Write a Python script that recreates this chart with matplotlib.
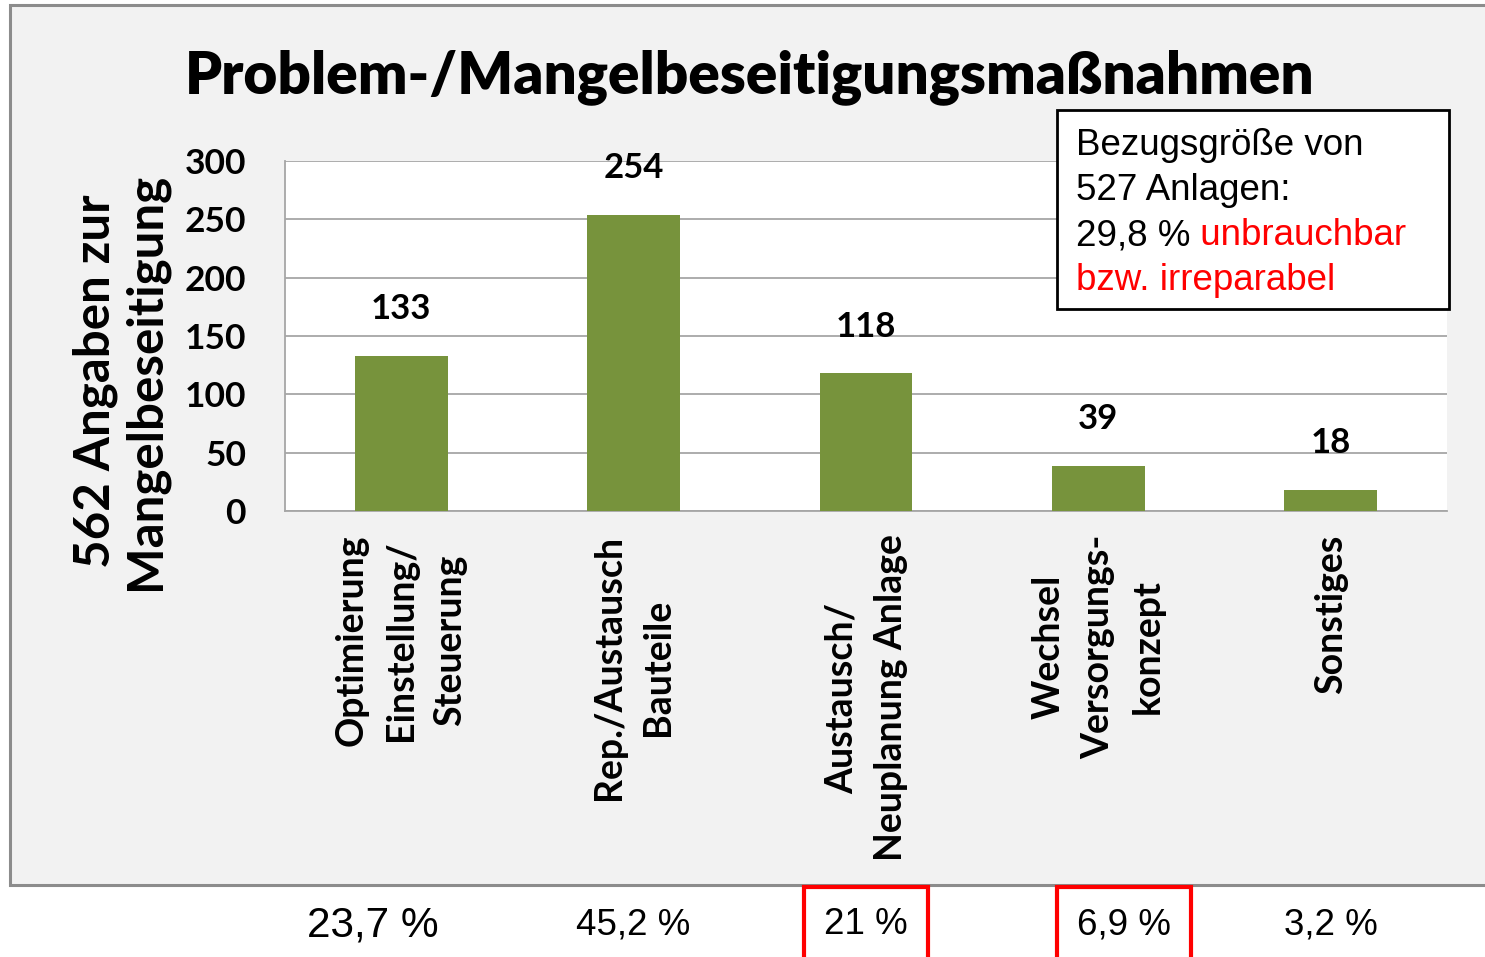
import matplotlib
matplotlib.use("Agg")
import matplotlib.pyplot as plt
from matplotlib.patches import Rectangle
from matplotlib.text import Annotation
from matplotlib.transforms import blended_transform_factory

# data
categories = [
    "Optimierung\nEinstellung/\nSteuerung",
    "Rep./Austausch\nBauteile",
    "Austausch/\nNeuplanung Anlage",
    "Wechsel\nVersorgungs-\nkonzept",
    "Sonstiges",
]
counts = [133, 254, 118, 39, 18]
shares = ["23,7 %", "45,2 %", "21 %", "6,9 %", "3,2 %"]
highlighted = [False, False, True, True, False]
yticks = [0, 50, 100, 150, 200, 250, 300]

BAR = "#77933c"
GRID = "#a6a6a6"
PANEL = "#f2f2f2"
BOLD_FONT = "Lato"
PLAIN_FONT = "Liberation Sans"

W, H = 1485, 957
fig = plt.figure(figsize=(W / 100, H / 100), dpi=100, facecolor="white")

# grey chart panel
panel = Rectangle((10 / W, 72 / H), 1.0, (957 - 72 - 5) / H, transform=fig.transFigure,
                  facecolor=PANEL, edgecolor="#8c8c8c", lw=2.2, zorder=-10)
fig.patches.append(panel)

ax = fig.add_axes([285 / W, (H - 511) / H, (1447 - 285) / W, 350 / H])
ax.set_facecolor("white")
x = list(range(len(categories)))
bars = ax.bar(x, counts, width=0.4, color=BAR, zorder=3)
ax.bar_label(bars, padding=22, fontsize=25, fontweight="bold", family=BOLD_FONT)

ax.set_xlim(-0.5, len(categories) - 0.5)
ax.set_ylim(0, 300)
ax.set_yticks(yticks)
ax.set_yticklabels([str(v) for v in yticks], fontsize=25.5, fontweight="bold", family=BOLD_FONT)
ax.set_xticks(x)
ax.set_xticklabels(categories, rotation=90, fontsize=27, fontweight="bold", family=BOLD_FONT,
                   linespacing=1.55)
for lbl in ax.get_xticklabels():
    lbl.set_multialignment("center")
ax.tick_params(axis="both", length=0)
ax.tick_params(axis="y", pad=28)
ax.tick_params(axis="x", pad=17)
ax.grid(axis="y", color=GRID, lw=1.3, zorder=0)
for s in ["top", "right"]:
    ax.spines[s].set_visible(False)
for s in ["left", "bottom"]:
    ax.spines[s].set_color(GRID)
    ax.spines[s].set_linewidth(1.3)

fig.text(750 / W, (H - 77) / H, "Problem-/Mangelbeseitigungsmaßnahmen", ha="center", va="center",
         fontsize=42, fontweight="heavy", family=BOLD_FONT)
fig.text(120 / W, (H - 381) / H, "562 Angaben zur\nMangelbeseitigung", rotation=90,
         ha="center", va="center", multialignment="center", fontsize=35.5,
         fontweight="bold", family=BOLD_FONT, linespacing=1.12)

# note box
box = Rectangle((1057 / W, (H - 309) / H), (1449 - 1057) / W, 199 / H, transform=fig.transFigure,
                facecolor="white", edgecolor="black", lw=2, zorder=5)
fig.patches.append(box)
tx = 1076 / W
base = 155
step = 45
note_size = 26.5
fig.text(tx, (H - base) / H, "Bezugsgröße von", fontsize=note_size, family=PLAIN_FONT,
         va="baseline", zorder=6)
fig.text(tx, (H - base - step) / H, "527 Anlagen:", fontsize=note_size, family=PLAIN_FONT,
         va="baseline", zorder=6)
t3 = fig.text(tx, (H - base - 2 * step) / H, "29,8 %", fontsize=note_size, family=PLAIN_FONT,
              va="baseline", zorder=6)
red = Annotation(" unbrauchbar", xy=(1, 0), xycoords=t3, va="bottom", ha="left",
                 fontsize=note_size, family=PLAIN_FONT, color="red", zorder=6,
                 annotation_clip=False)
fig.add_artist(red)
fig.text(tx, (H - base - 3 * step) / H, "bzw. irreparabel", fontsize=note_size,
         family=PLAIN_FONT, color="red", va="baseline", zorder=6)

# shares below the chart
trans = blended_transform_factory(ax.transData, fig.transFigure)
nudge = [-0.12, 0, 0, 0.11, 0]
for i, (s, hl) in enumerate(zip(shares, highlighted)):
    kw = {}
    if hl:
        kw["bbox"] = dict(boxstyle="square,pad=0.55", fc="white", ec="red", lw=3)
    size = 30.5 if i == 0 else 26.5
    ax.text(i + nudge[i], (H - 925) / H, s, transform=trans, ha="center",
            va="center", fontsize=size, family=PLAIN_FONT, clip_on=False, **kw)

fig.savefig("out.png", dpi=100, facecolor="white")
